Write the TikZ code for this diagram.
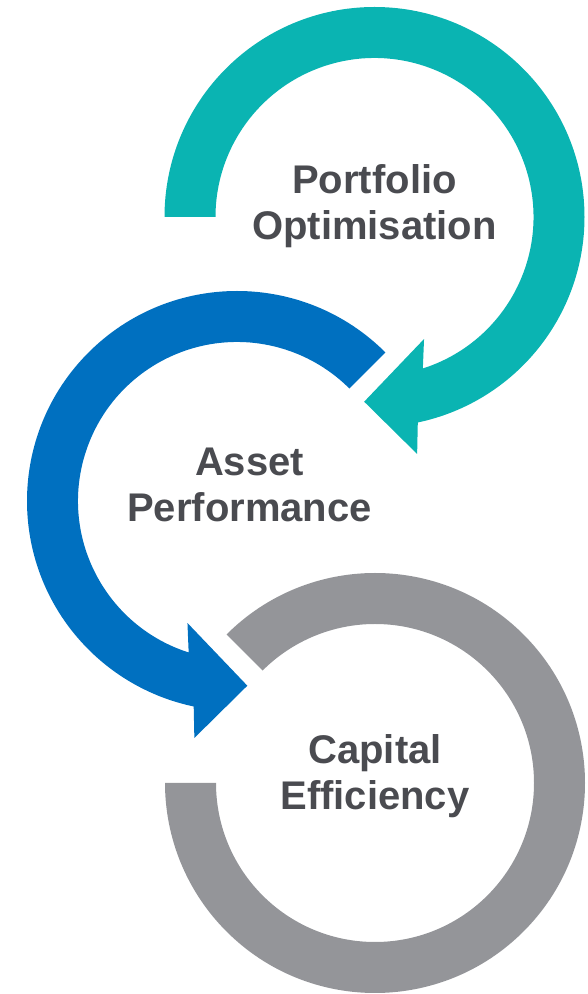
\documentclass[tikz,border=0pt]{standalone}
\usepackage{fontspec}
\setmainfont{Liberation Sans}
\definecolor{tealband}{RGB}{10,180,178}
\definecolor{blueband}{RGB}{0,112,192}
\definecolor{grayband}{RGB}{148,149,153}
\definecolor{labelgray}{RGB}{74,75,80}

\begin{document}
\begin{tikzpicture}[x = 1pt, y = 1pt]

  \tikzstyle{steptext} = [text = labelgray, align = center, inner sep = 0pt,
                          font = \fontsize{40}{46}\selectfont\bfseries]

    \useasboundingbox (0,0) rectangle (587,994);

    \coordinate (pc) at (374.5,777);
    \coordinate (ac) at (237,493);
    \coordinate (cc) at (375,211);

    \fill[tealband] ([shift={(pc)}]180:210) arc[start angle = 180, end angle = -78.1, radius = 210]
      -- ([shift={(pc)}]-79.8:240.8) -- ([shift={(pc)}]-93.2:185) -- ([shift={(pc)}]-67.9:131.7)
      -- ([shift={(pc)}]-72.3:159) arc[start angle = -72.3, end angle = 180, radius = 159] -- cycle;

    \fill[blueband] ([shift={(ac)}]45:210) arc[start angle = 45, end angle = 258.1, radius = 210]
      -- ([shift={(ac)}]259.8:240.8) -- ([shift={(ac)}]273.2:185) -- ([shift={(ac)}]247.9:131.7)
      -- ([shift={(ac)}]252.3:159) arc[start angle = 252.3, end angle = 45, radius = 159] -- cycle;

    \fill[grayband] ([shift={(cc)}]135:210) arc[start angle = 135, end angle = -180, radius = 210]
      -- ([shift={(cc)}]180:159) arc[start angle = -180, end angle = 135, radius = 159] -- cycle;

    \node[steptext] (portfolio) at ([yshift = 10.5]pc) {Portfolio\\Optimisation};
    \node[steptext] (asset) at ([xshift = 12.5, yshift = 16]ac) {Asset\\Performance};
    \node[steptext] (capital) at ([yshift = 6.5]cc) {Capital\\Efficiency};
\end{tikzpicture}
\end{document}
